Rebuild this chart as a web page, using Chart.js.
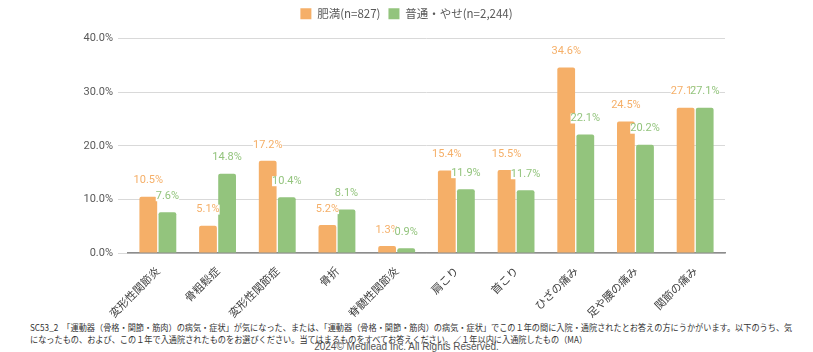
<!DOCTYPE html>
<html>
<head>
<meta charset="utf-8">
<script src="https://cdn.jsdelivr.net/npm/chart.js@4"></script>
<style>
  body { margin: 0; background: #fff; width: 813px; height: 352px; overflow: hidden; position: relative; }
  #wrap { position: absolute; left: 0; top: 0; width: 813px; height: 320px; }
  .note { position: absolute; left: 30px; font-family: 'Noto Sans CJK JP', sans-serif; font-size: 8.6px; color: #333; white-space: nowrap; transform-origin: 0 0; }
  .copy { position: absolute; left: 0; width: 813px; text-align: center; top: 341px; font-family: 'Liberation Sans', sans-serif; font-size: 10px; color: #555; }
</style>
</head>
<body>
<div id="wrap"><canvas id="chart" width="813" height="320"></canvas></div>
<div class="copy">2024© Medilead Inc. All Rights Reserved.</div>
<div class="note" id="n1" style="top:321px;background:#fff">SC53_2　「運動器（骨格・関節・筋肉）の病気・症状」が気になった、または、「運動器（骨格・関節・筋肉）の病気・症状」でこの１年の間に入院・通院されたとお答えの方にうかがいます。以下のうち、気</div>
<div class="note" id="n2" style="top:333px">になったもの、および、この１年で入通院されたものをお選びください。当てはまるものをすべてお答えください。／１年以内に入通院したもの（MA）</div>
<script>
// categories and values (%)
const categories = ["変形性関節炎", "骨粗鬆症", "変形性関節症", "骨折", "脊髄性関節炎", "肩こり", "首こり", "ひざの痛み", "足や腰の痛み", "関節の痛み"];
const obeseValues = [10.5, 5.1, 17.2, 5.2, 1.3, 15.4, 15.5, 34.6, 24.5, 27.1];
const normalValues = [7.6, 14.8, 10.4, 8.1, 0.9, 11.9, 11.7, 22.1, 20.2, 27.1];
const seriesNames = ["肥満(n=827)", "普通・やせ(n=2,244)"];
const yTicks = [0, 10, 20, 30, 40];

const orange = "#F5AF68";
const green = "#93C47D";

// squeeze the footnote lines to the reference width
const n1 = document.getElementById("n1");
const sx = 762 / n1.scrollWidth;
n1.style.transform = "scaleX(" + sx + ")";
document.getElementById("n2").style.transform = "scaleX(" + sx + ")";

// extra room under the legend
const legendGap = {
  id: "legendGap",
  beforeInit(chart) {
    const fit = chart.legend.fit;
    chart.legend.fit = function () {
      fit.bind(chart.legend)();
      this.height += 9;
    };
  }
};

// value labels above bars, with a small white box behind them
const valueLabels = {
  id: "valueLabels",
  afterDatasetsDraw(chart) {
    const ctx = chart.ctx;
    ctx.save();
    ctx.font = "11px Roboto, sans-serif";
    ctx.textAlign = "center";
    ctx.textBaseline = "middle";
    chart.data.datasets.forEach((ds, i) => {
      const meta = chart.getDatasetMeta(i);
      meta.data.forEach((bar, j) => {
        const txt = ds.data[j].toFixed(1) + "%";
        const w = ctx.measureText(txt).width;
        const y = bar.y - 16;
        ctx.fillStyle = "#fff";
        ctx.fillRect(bar.x - w / 2, y - 5, w, 10);
        ctx.fillStyle = ds.backgroundColor;
        ctx.fillText(txt, bar.x, y);
      });
    });
    ctx.restore();
  }
};

new Chart(document.getElementById("chart").getContext("2d"), {
  type: "bar",
  data: {
    labels: categories,
    datasets: [
      { label: seriesNames[0], data: obeseValues, backgroundColor: orange, borderRadius: 2 },
      { label: seriesNames[1], data: normalValues, backgroundColor: green, borderRadius: 2 }
    ]
  },
  options: {
    responsive: false,
    animation: false,
    layout: { padding: { top: 0 } },
    categoryPercentage: 0.64,
    barPercentage: 0.93,
    plugins: {
      legend: {
        position: "top",
        labels: {
          boxWidth: 11,
          boxHeight: 11,
          padding: 8,
          color: "#595959",
          font: { family: "'Noto Sans CJK JP', sans-serif", size: 11.5 }
        }
      },
      tooltip: { enabled: false }
    },
    scales: {
      y: {
        min: 0,
        max: 40,
        afterFit(scale) { scale.width = 128; },
        afterBuildTicks(scale) { scale.ticks = yTicks.map(v => ({ value: v })); },
        grid: { color: "#d9d9d9", tickLength: 10, drawTicks: true, tickColor: "#d9d9d9" },
        border: { display: false },
        ticks: {
          padding: 5,
          color: "#595959",
          font: { family: "Roboto, sans-serif", size: 11 },
          callback: v => v.toFixed(1) + "%"
        }
      },
      // empty right-hand axis to keep the plot narrower than the page
      yRight: {
        position: "right",
        afterFit(scale) { scale.width = 88; },
        grid: { display: false },
        border: { display: false },
        ticks: { display: false }
      },
      x: {
        afterFit(scale) { scale.height = 67; },
        grid: { display: false },
        border: { color: "#8c8c8c", width: 1.5 },
        ticks: {
          minRotation: 45,
          maxRotation: 45,
          autoSkip: false,
          color: "#404040",
          font: { family: "'Noto Sans CJK JP', sans-serif", size: 11 }
        }
      }
    }
  },
  plugins: [legendGap, valueLabels]
});
</script>
</body>
</html>
